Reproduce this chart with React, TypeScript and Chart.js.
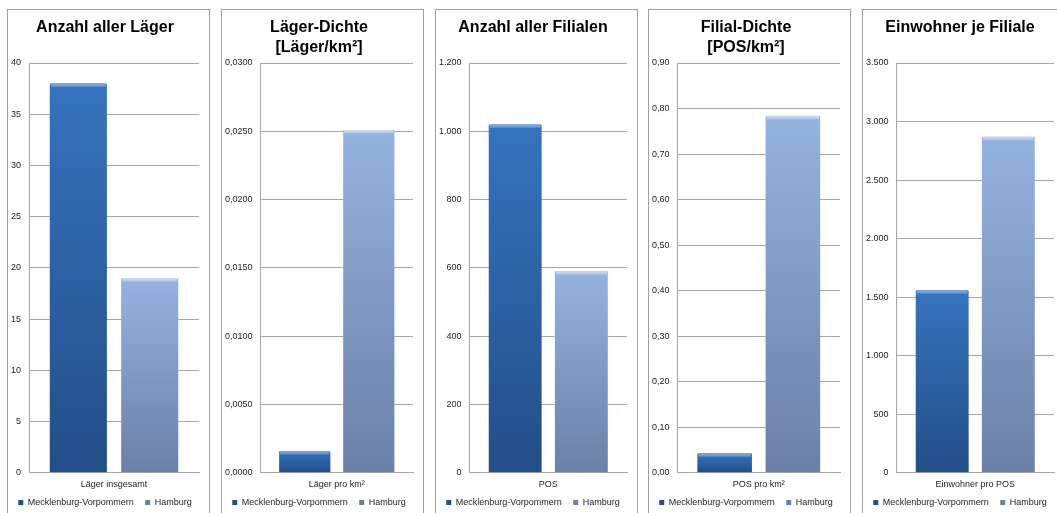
import { useEffect, useRef } from 'react';
import { Chart, registerables } from 'chart.js';

Chart.register(...registerables);

const FONT = '"Liberation Sans", Arial, sans-serif';

// Series
const seriesNames = ['Mecklenburg-Vorpommern', 'Hamburg'];

// Anzahl aller Läger
const laegerCategories = ['Läger insgesamt'];
const laegerMV = [38];
const laegerHH = [19];
const laegerTicks = [0, 5, 10, 15, 20, 25, 30, 35, 40];
const laegerTickLabels = ['0', '5', '10', '15', '20', '25', '30', '35', '40'];

// Läger-Dichte
const laegerDichteCategories = ['Läger pro km²'];
const laegerDichteMV = [0.0016];
const laegerDichteHH = [0.0251];
const laegerDichteTicks = [0, 0.005, 0.01, 0.015, 0.02, 0.025, 0.03];
const laegerDichteTickLabels = ['0,0000', '0,0050', '0,0100', '0,0150', '0,0200', '0,0250', '0,0300'];

// Anzahl aller Filialen
const filialenCategories = ['POS'];
const filialenMV = [1020];
const filialenHH = [590];
const filialenTicks = [0, 200, 400, 600, 800, 1000, 1200];
const filialenTickLabels = ['0', '200', '400', '600', '800', '1.000', '1.200'];

// Filial-Dichte
const filialDichteCategories = ['POS pro km²'];
const filialDichteMV = [0.043];
const filialDichteHH = [0.784];
const filialDichteTicks = [0, 0.1, 0.2, 0.3, 0.4, 0.5, 0.6, 0.7, 0.8, 0.9];
const filialDichteTickLabels = ['0,00', '0,10', '0,20', '0,30', '0,40', '0,50', '0,60', '0,70', '0,80', '0,90'];

// Einwohner je Filiale
const einwohnerCategories = ['Einwohner pro POS'];
const einwohnerMV = [1560];
const einwohnerHH = [2870];
const einwohnerTicks = [0, 500, 1000, 1500, 2000, 2500, 3000, 3500];
const einwohnerTickLabels = ['0', '500', '1.000', '1.500', '2.000', '2.500', '3.000', '3.500'];

// Bar colours: [base, gradient top, gradient bottom, cap]
const mvColors = ['#2E63A6', '#3673BD', '#234E87', '#6E9BD6'];
const hhColors = ['#8AA6D2', '#95B3E0', '#6B80A6', '#C9DAF1'];

type PanelDef = {
  left: number;
  title: string | string[];
  categories: string[];
  mv: number[];
  hh: number[];
  ticks: number[];
  tickLabels: string[];
};

const panels: PanelDef[] = [
  { left: 7, title: 'Anzahl aller Läger', categories: laegerCategories, mv: laegerMV, hh: laegerHH, ticks: laegerTicks, tickLabels: laegerTickLabels },
  { left: 221, title: ['Läger-Dichte', '[Läger/km²]'], categories: laegerDichteCategories, mv: laegerDichteMV, hh: laegerDichteHH, ticks: laegerDichteTicks, tickLabels: laegerDichteTickLabels },
  { left: 435, title: 'Anzahl aller Filialen', categories: filialenCategories, mv: filialenMV, hh: filialenHH, ticks: filialenTicks, tickLabels: filialenTickLabels },
  { left: 648, title: ['Filial-Dichte', '[POS/km²]'], categories: filialDichteCategories, mv: filialDichteMV, hh: filialDichteHH, ticks: filialDichteTicks, tickLabels: filialDichteTickLabels },
  { left: 862, title: 'Einwohner je Filiale', categories: einwohnerCategories, mv: einwohnerMV, hh: einwohnerHH, ticks: einwohnerTicks, tickLabels: einwohnerTickLabels },
];

function barGradient(colors: string[]) {
  return (ctx: any) => {
    const chart = ctx.chart;
    if (ctx.type !== 'data' || !chart.chartArea) return colors[0];
    const y = chart.scales.y;
    const top = y.getPixelForValue(ctx.raw as number);
    const bottom = y.getPixelForValue(0);
    if (!isFinite(top) || !isFinite(bottom) || top === bottom) return colors[0];
    const g = chart.ctx.createLinearGradient(0, top, 0, bottom);
    g.addColorStop(0, colors[1]);
    g.addColorStop(1, colors[2]);
    return g;
  };
}

// Light bevel strip along the top edge of each bar
const barCap = {
  id: 'barCap',
  afterDatasetsDraw(chart: any) {
    const ctx = chart.ctx;
    const caps = [mvColors[3], hhColors[3]];
    chart.data.datasets.forEach((_: any, i: number) => {
      const meta = chart.getDatasetMeta(i);
      meta.data.forEach((bar: any) => {
        const { x, y, width } = bar.getProps(['x', 'y', 'width'], true);
        const left = x - width / 2;
        const g = ctx.createLinearGradient(0, y, 0, y + 4);
        g.addColorStop(0, caps[i]);
        g.addColorStop(1, 'rgba(255,255,255,0)');
        ctx.save();
        ctx.fillStyle = g;
        ctx.fillRect(left + 1, y, width - 2, 4);
        ctx.restore();
      });
    });
  },
};

function Panel({ def }: { def: PanelDef }) {
  const ref = useRef<HTMLCanvasElement>(null);

  useEffect(() => {
    if (!ref.current) return;
    const twoLines = Array.isArray(def.title);
    const chart = new Chart(ref.current, {
      type: 'bar',
      data: {
        labels: def.categories,
        datasets: [
          {
            label: seriesNames[0],
            data: def.mv,
            backgroundColor: barGradient(mvColors) as any,
            borderWidth: 0,
            borderRadius: 1,
            categoryPercentage: 0.84,
            barPercentage: 0.8,
          },
          {
            label: seriesNames[1],
            data: def.hh,
            backgroundColor: barGradient(hhColors) as any,
            borderWidth: 0,
            borderRadius: 1,
            categoryPercentage: 0.84,
            barPercentage: 0.8,
          },
        ],
      },
      options: {
        animation: false,
        responsive: false,
        maintainAspectRatio: false,
        devicePixelRatio: 1,
        events: [],
        layout: { padding: { left: 3, right: 10, top: 0, bottom: 0 } },
        plugins: {
          title: {
            display: true,
            text: def.title,
            color: '#000',
            font: { family: FONT, size: 16, weight: 'bold', lineHeight: 1.25 },
            padding: { top: 8, bottom: twoLines ? 5 : 25 },
          },
          legend: {
            position: 'bottom',
            labels: {
              boxWidth: 5,
              boxHeight: 5,
              padding: 2.4,
              color: '#222',
              font: { family: FONT, size: 9 },
              generateLabels: (c: any) => {
                const items = Chart.defaults.plugins.legend.labels.generateLabels(c);
                // keep a wider gap between the two legend entries
                return items.map((it: any, i: number) =>
                  i < items.length - 1 ? { ...it, text: it.text + '\u2003' } : it
                );
              },
            },
          },
          tooltip: { enabled: false },
        },
        scales: {
          x: {
            grid: { display: false, drawTicks: false },
            border: { display: true, color: '#A6A6A6' },
            ticks: { color: '#222', font: { family: FONT, size: 9 }, padding: 6 },
          },
          y: {
            min: def.ticks[0],
            max: def.ticks[def.ticks.length - 1],
            afterBuildTicks: (axis: any) => {
              axis.ticks = def.ticks.map((v) => ({ value: v }));
            },
            afterFit: (axis: any) => {
              axis.width = axis.width - 8;
            },
            grid: { color: '#A6A6A6', drawTicks: false },
            border: { display: true, color: '#A6A6A6' },
            ticks: {
              color: '#222',
              font: { family: FONT, size: 9 },
              padding: 8,
              callback: (_v: any, i: number) => def.tickLabels[i],
            },
          },
        },
      },
      plugins: [barCap],
    });
    return () => chart.destroy();
  }, [def]);

  return (
    <div
      style={{
        position: 'absolute',
        left: def.left,
        top: 9,
        width: 203,
        height: 520,
        boxSizing: 'border-box',
        border: '1px solid #A0A0A0',
        background: '#fff',
      }}
    >
      <canvas ref={ref} width={201} height={507} style={{ display: 'block', width: 201, height: 507 }} />
    </div>
  );
}

export default function App() {
  return (
    <div
      style={{
        position: 'fixed',
        left: 0,
        top: 0,
        width: 1057,
        height: 513,
        overflow: 'hidden',
        background: '#fff',
      }}
    >
      {panels.map((p, i) => (
        <Panel key={i} def={p} />
      ))}
    </div>
  );
}
